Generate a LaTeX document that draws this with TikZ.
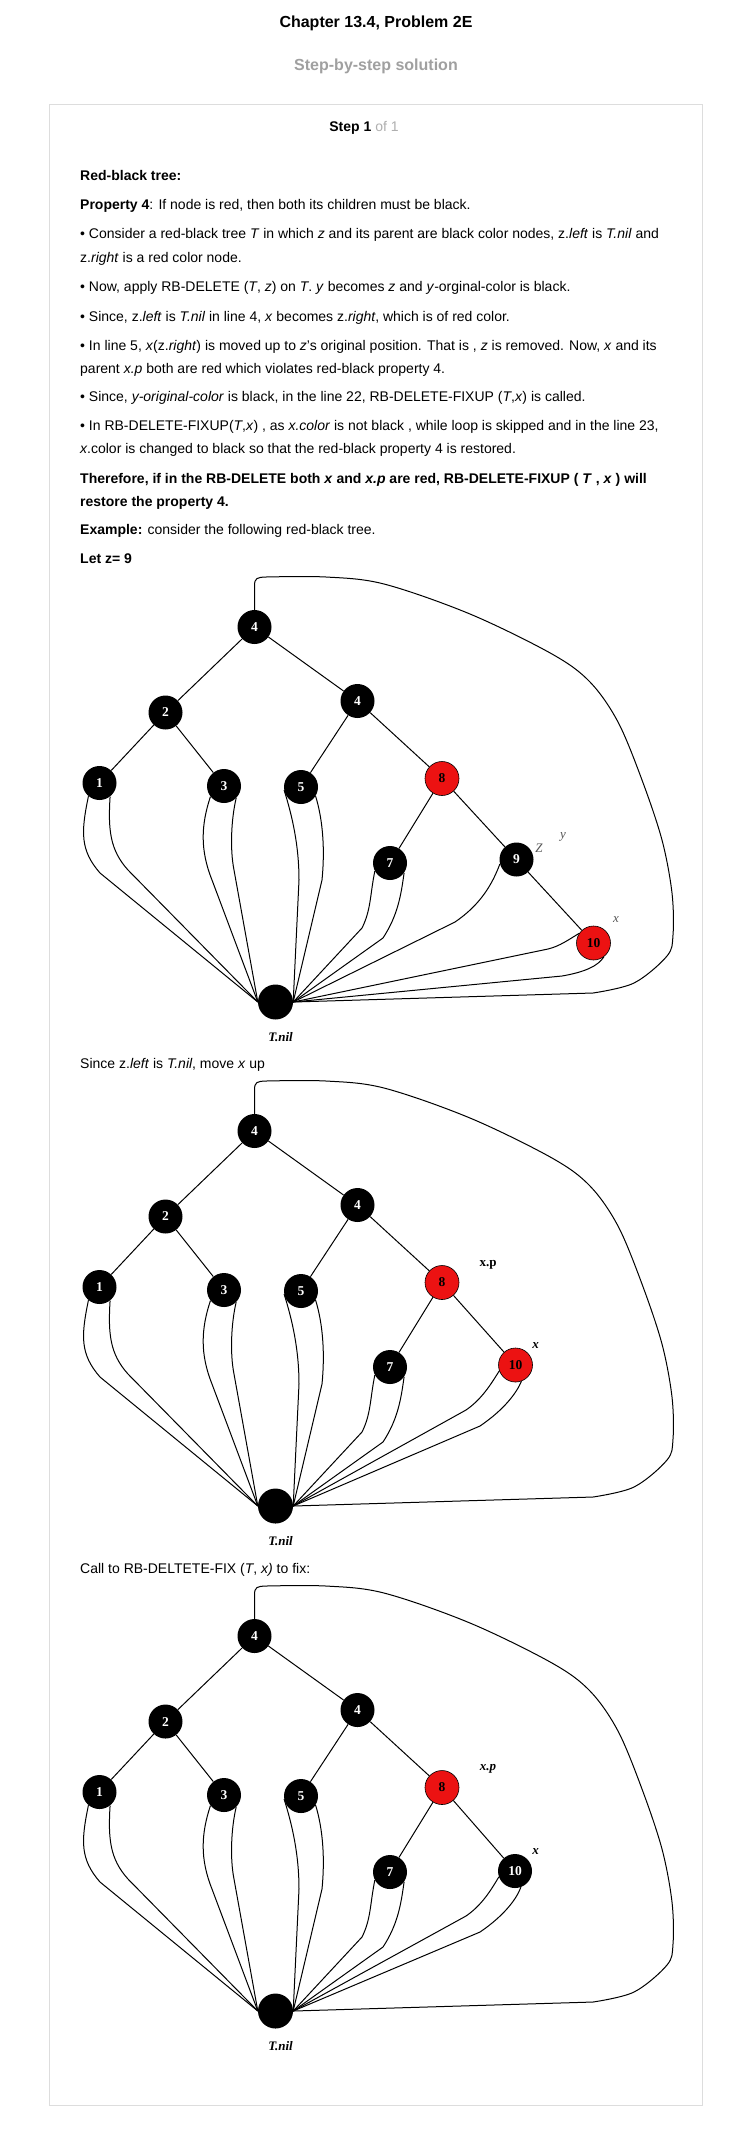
\documentclass[tikz,border=0pt]{standalone}
\usepackage{fontspec}
\setmainfont{Liberation Sans}
\newfontfamily\tnr{Liberation Serif}
\definecolor{rbred}{RGB}{236,18,18}
\definecolor{boxgray}{RGB}{221,221,221}
\definecolor{subgray}{RGB}{160,160,160}
\definecolor{ofgray}{RGB}{175,175,175}
\definecolor{labgray}{RGB}{85,85,85}
\tikzset{
  body/.style={anchor=base west, inner sep=0pt, font=\fontsize{14bp}{17bp}\selectfont},
  rb/.style={circle, minimum size=34bp, inner sep=0pt, font=\tnr\bfseries\fontsize{13.5bp}{13.5bp}\selectfont},
  blk/.style={rb, fill=black, text=white},
  rednode/.style={rb, fill=rbred, draw=black, line width=0.6bp, text=black},
  nilnode/.style={circle, fill=black, minimum size=35bp, inner sep=0pt},
  nillabel/.style={inner sep=0pt, font=\tnr\bfseries\itshape\fontsize{13bp}{13bp}\selectfont},
  graylab/.style={inner sep=0pt, text=labgray, font=\tnr\itshape\fontsize{13bp}{13bp}\selectfont},
  boldlab/.style={inner sep=0pt, font=\tnr\bfseries\fontsize{13bp}{13bp}\selectfont},
  bilab/.style={inner sep=0pt, font=\tnr\bfseries\itshape\fontsize{13bp}{13bp}\selectfont},
  edge/.style={line width=1bp, draw=black},
}
\newcommand\treebase{%
  \node[blk] (root) at (254.5,627) {4};
  \node[blk] (n2) at (165.5,712.5) {2};
  \node[blk] (r4) at (357.5,701) {4};
  \node[blk] (n1) at (99.5,783) {1};
  \node[blk] (n3) at (224,786) {3};
  \node[blk] (n5) at (301,787) {5};
  \node[rednode] (n8) at (442,778.5) {8};
  \node[blk] (n7) at (390,863) {7};
  \node[nilnode] (nil) at (275.5,1002) {};
  \node[nillabel] (nill) at (280.5,1037) {T.nil};
  \draw[edge] (root) -- (n2) (root) -- (r4) (n2) -- (n1) (n2) -- (n3)
              (r4) -- (n5) (r4) -- (n8) (n8) -- (n7);
  \draw[edge] (n1.230) .. controls (81,832) and (80,850) .. (100,873) -- (nil.west);
  \draw[edge] (n1.308) .. controls (108,830) and (110,850) .. (128,870) -- (nil.west);
  \draw[edge] (n3.218) .. controls (201,825) and (200,850) .. (212,880) -- (nil.west);
  \draw[edge] (n3.315) .. controls (231,820) and (230,850) .. (234,870) -- (nil.west);
  \draw[edge] (n5.190) .. controls (292,815) and (299,845) .. (299,880) -- (nil.east);
  \draw[edge] (n5.328) .. controls (323,820) and (325,850) .. (322,880) -- (nil.east);
  \draw[edge] (n7.208) .. controls (370,895) and (371,910) .. (362,928) -- (nil.east);
  \draw[edge] (n7.325) .. controls (401,895) and (398,915) .. (383,938) -- (nil.east);
  \draw[edge] (root.north) -- (254.5,586) .. controls (254.5,578) and (257,577.3) .. (266,577)
     -- plot[smooth, tension=0.55] coordinates {(266,577) (326,577) (384,584) (470,614) (552,654)
        (590,682) (618,722) (642,780) (662,840) (672,893) (673,935) (667,956) (634,983) (593,993)}
     -- (nil.east);
}
\begin{document}
\begin{tikzpicture}[x=1bp, y=-1bp]
  \useasboundingbox (0,0) rectangle (752,2133);
  \fill[white] (0,0) rectangle (752,2133);
  \node[anchor=base, inner sep=0pt, font=\bfseries\fontsize{16bp}{16bp}\selectfont] (title) at (376,27) {Chapter 13.4, Problem 2E};
  \node[anchor=base, inner sep=0pt, text=subgray, font=\bfseries\fontsize{16bp}{16bp}\selectfont] (sub) at (376,70) {Step-by-step solution};
  \draw[boxgray, line width=1bp] (49,104) rectangle (702,2105);
  \node[anchor=base, inner sep=0pt, font=\fontsize{14bp}{14bp}\selectfont] (step) at (364,131) {\textbf{Step 1} \textcolor{ofgray}{of 1}};

  \node[body] (t1) at (80,180) {\textbf{Red-black tree:}};
  \node[body] (t2) at (80,209) {\textbf{Property 4}: If node is red, then both its children must be black.};
  \node[body] (t3) at (80,238) {• Consider a red-black tree \textit{T} in which \textit{z} and its parent are black color nodes, z.\textit{left} is \textit{T.nil} and};
  \node[body] (t4) at (80,262) {z.\textit{right} is a red color node.};
  \node[body] (t5) at (80,291) {• Now, apply RB-DELETE (\textit{T}, \textit{z}) on \textit{T}. \textit{y} becomes \textit{z} and \textit{y}-orginal-color is black.};
  \node[body] (t6) at (80,321) {• Since, z.\textit{left} is \textit{T.nil} in line 4, \textit{x} becomes z.\textit{right}, which is of red color.};
  \node[body] (t7) at (80,350) {• In line 5, \textit{x}(z.\textit{right}) is moved up to \textit{z}'s original position. That is , \textit{z} is removed. Now, \textit{x} and its};
  \node[body] (t8) at (80,373) {parent \textit{x.p} both are red which violates red-black property 4.};
  \node[body] (t9) at (80,401) {• Since, \textit{y-original-color} is black, in the line 22, RB-DELETE-FIXUP (\textit{T},\textit{x}) is called.};
  \node[body] (t10) at (80,430) {• In RB-DELETE-FIXUP(\textit{T},\textit{x}) , as \textit{x.color} is not black , while loop is skipped and in the line 23,};
  \node[body] (t11) at (80,453) {\textit{x}.color is changed to black so that the red-black property 4 is restored.};
  \node[body] (t12) at (80,483) {\textbf{Therefore, if in the RB-DELETE both \textit{x} and \textit{x.p} are red, RB-DELETE-FIXUP ( \textit{T} , \textit{x} ) will}};
  \node[body] (t13) at (80,506) {\textbf{restore the property 4.}};
  \node[body] (t14) at (80,534) {\textbf{Example:} consider the following red-black tree.};
  \node[body] (t15) at (80,563) {\textbf{Let z= 9}};

  % tree 1
  \begin{scope}[name prefix=a-]
    \treebase
    \node[blk] (n9) at (516.5,859.5) {9};
    \node[rednode] (n10) at (593.5,943) {10};
    \draw[edge] (n8) -- (n9) (n9) -- (n10);
    \draw[edge] (n9.195) .. controls (492,885) and (480,905) .. (455,922) -- (nil.east);
    \draw[edge] (n10.146) .. controls (568,940) and (560,946) .. (548,949) -- (nil.east);
    \draw[edge] (n10.307) .. controls (598,966) and (585,972) .. (562,976) -- (nil.east);
    \node[graylab] (lz) at (539,848) {Z};
    \node[graylab] (ly) at (563,837) {y};
    \node[graylab] (lx) at (616,920) {x};
  \end{scope}

  \node[body] (s1) at (80,1068) {Since z.\textit{left} is \textit{T.nil}, move \textit{x} up};

  % tree 2
  \begin{scope}[yshift=-504bp, name prefix=b-]
    \treebase
    \node[rednode] (n10) at (515.5,861) {10};
    \draw[edge] (n8) -- (n10);
    \draw[edge] (n10.200) .. controls (491,880) and (482,895) .. (466,906) -- (nil.east);
    \draw[edge] (n10.290) .. controls (517,888) and (505,905) .. (480,922) -- (nil.east);
    \node[boldlab] (lxp) at (488,761) {x.p};
    \node[bilab] (lx) at (535.5,841) {x};
  \end{scope}

  \node[body] (s2) at (80,1573) {Call to RB-DELTETE-FIX (\textit{T}, \textit{x)} to fix:};

  % tree 3
  \begin{scope}[yshift=-1009bp, name prefix=c-]
    \treebase
    \node[blk] (n10) at (515,862) {10};
    \draw[edge] (n8) -- (n10);
    \draw[edge] (n10.200) .. controls (491,881) and (482,896) .. (466,907) -- (nil.east);
    \draw[edge] (n10.290) .. controls (517,889) and (505,906) .. (480,923) -- (nil.east);
    \node[bilab] (lxp) at (488,760) {x.p};
    \node[bilab] (lx) at (535.5,842) {x};
  \end{scope}
\end{tikzpicture}
\end{document}
